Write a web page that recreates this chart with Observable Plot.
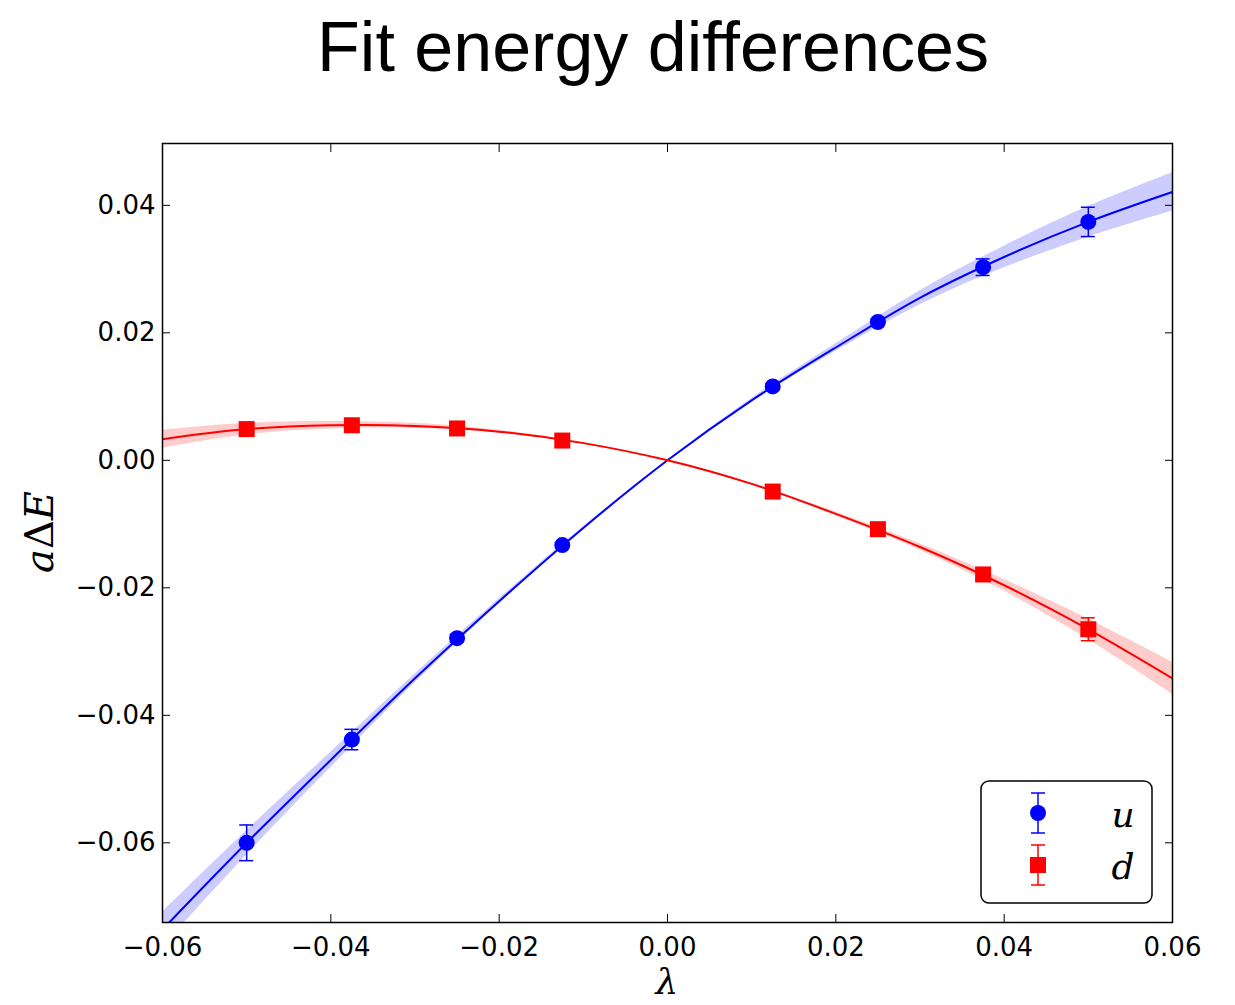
<!DOCTYPE html>
<html>
<head>
<meta charset="utf-8">
<script src="https://cdn.jsdelivr.net/npm/d3@7"></script>
<script src="https://cdn.jsdelivr.net/npm/@observablehq/plot@0.6"></script>
<style>
  body { margin: 0; background: #fff; }
  svg { display: block; }
</style>
</head>
<body>
<div id="chart"></div>
<script>
// ---- data ----
const lambda = [-0.05, -0.0375, -0.025, -0.0125, 0.0125, 0.025, 0.0375, 0.05];
const uValues = [-0.0600, -0.0438, -0.0279, -0.0133, 0.0116, 0.0217, 0.0303, 0.0374];
const uErrors = [0.0028, 0.0016, 0.0006, 0.0004, 0.0004, 0.0005, 0.0013, 0.0023];
const dValues = [0.0049, 0.0055, 0.0050, 0.0031, -0.0049, -0.0108, -0.0179, -0.0265];
const dErrors = [0.0004, 0.0004, 0.0003, 0.0003, 0.0003, 0.0005, 0.0008, 0.0018];

// fitted curves with error bands, read at lambda steps
const fitLambda = [-0.06, -0.05, -0.04, -0.03, -0.02, -0.01, 0, 0.01, 0.02, 0.03, 0.04, 0.05, 0.06];
const uFit  = [-0.0736, -0.0600, -0.0470, -0.0342, -0.0221, -0.0106, 0.0, 0.0094, 0.0177, 0.0255, 0.0319, 0.0374, 0.0421];
const uBand = [0.0027, 0.0019, 0.0012, 0.0007, 0.0004, 0.0002, 0.0, 0.0003, 0.0006, 0.0011, 0.0017, 0.0024, 0.0030];
const dFit  = [0.0033, 0.0049, 0.0055, 0.0054, 0.0045, 0.0027, 0.0, -0.0037, -0.0084, -0.0136, -0.0196, -0.0265, -0.0342];
const dBand = [0.0014, 0.0009, 0.0006, 0.0004, 0.0002, 0.0001, 0.0, 0.0001, 0.0003, 0.0005, 0.0009, 0.0016, 0.0025];

const xTicks = [-0.06, -0.04, -0.02, 0.00, 0.02, 0.04, 0.06];
const yTicks = [-0.06, -0.04, -0.02, 0.00, 0.02, 0.04];
const xDomain = [-0.06, 0.06];
const yDomain = [-0.0725, 0.0497];

const titleText = "Fit energy differences";

// ---- tables ----
const uPts = lambda.map((x, i) => ({x, v: uValues[i], e: uErrors[i]}));
const dPts = lambda.map((x, i) => ({x, v: dValues[i], e: dErrors[i]}));
const fit = fitLambda.map((x, i) => ({x, u: uFit[i], ub: uBand[i], d: dFit[i], db: dBand[i]}));

const BLUE = "#0000ff", RED = "#ff0000";
const capHalf = 0.00083;
const fmt = d => d.toFixed(2).replace("-", "\u2212");

function errMarks(pts, color) {
  return [
    Plot.ruleX(pts, {x: "x", y1: d => d.v - d.e, y2: d => d.v + d.e, stroke: color, strokeWidth: 1.5}),
    Plot.ruleY(pts, {y: d => d.v + d.e, x1: d => d.x - capHalf, x2: d => d.x + capHalf, stroke: color, strokeWidth: 1.5}),
    Plot.ruleY(pts, {y: d => d.v - d.e, x1: d => d.x - capHalf, x2: d => d.x + capHalf, stroke: color, strokeWidth: 1.5})
  ];
}

// title
const chart = document.getElementById("chart");
const tsvg = d3.create("svg").attr("width", 1235).attr("height", 100);
tsvg.append("text").attr("x", 653).attr("y", 71).attr("text-anchor", "middle")
  .attr("font-family", "'Liberation Sans', Arial, sans-serif").attr("font-size", 70)
  .attr("fill", "black").text(titleText);
chart.appendChild(tsvg.node());

const plot = Plot.plot({
  width: 1235,
  height: 905,
  marginLeft: 162,
  marginRight: 63,
  marginTop: 43,
  marginBottom: 83,
  style: {fontFamily: "'DejaVu Sans', sans-serif", fontSize: "26px", color: "black", background: "white"},
  x: {domain: xDomain},
  y: {domain: yDomain},
  marks: [
    Plot.areaY(fit, {x: "x", y1: d => d.u - d.ub, y2: d => d.u + d.ub, fill: "#ccccff", curve: "catmull-rom", clip: true}),
    Plot.areaY(fit, {x: "x", y1: d => d.d - d.db, y2: d => d.d + d.db, fill: "#ffcccc", curve: "catmull-rom", clip: true}),
    Plot.line(fit, {x: "x", y: "u", stroke: BLUE, strokeWidth: 2, curve: "catmull-rom", clip: true}),
    Plot.line(fit, {x: "x", y: "d", stroke: RED, strokeWidth: 2, curve: "catmull-rom", clip: true}),
    ...errMarks(uPts, BLUE),
    ...errMarks(dPts, RED),
    Plot.dot(uPts, {x: "x", y: "v", r: 8, fill: BLUE, symbol: "circle"}),
    Plot.dot(dPts, {x: "x", y: "v", r: 9.03, fill: RED, symbol: "square"}),
    Plot.frame({stroke: "black", strokeWidth: 1.5}),
    Plot.axisX({anchor: "bottom", ticks: xTicks, tickSize: 0, tickPadding: 15, tickFormat: fmt, label: null}),
    Plot.axisX({anchor: "bottom", ticks: xTicks, tickSize: -8, tickFormat: () => "", label: null}),
    Plot.axisX({anchor: "top", ticks: xTicks, tickSize: -8, tickFormat: () => "", label: null}),
    Plot.axisY({anchor: "left", ticks: yTicks, tickSize: 0, tickPadding: 7, tickFormat: fmt, label: null}),
    Plot.axisY({anchor: "left", ticks: yTicks, tickSize: -8, tickFormat: () => "", label: null}),
    Plot.axisY({anchor: "right", ticks: yTicks, tickSize: -8, tickFormat: () => "", label: null})
  ]
});
chart.appendChild(plot);

const svg = d3.select(plot);
const serif = "'DejaVu Serif', serif";
// x label
svg.append("text").attr("x", 667).attr("y", 894).attr("text-anchor", "middle")
  .attr("font-family", serif).attr("font-style", "italic").attr("font-size", 36).attr("fill", "black").text("\u03bb");
// y label
const yl = svg.append("text").attr("transform", "translate(53,432) rotate(-90)").attr("text-anchor", "middle")
  .attr("font-family", serif).attr("font-size", 40).attr("fill", "black");
yl.append("tspan").attr("font-style", "italic").text("a");
yl.append("tspan").text("\u0394");
yl.append("tspan").attr("font-style", "italic").text("E");

// legend
const lg = svg.append("g");
lg.append("rect").attr("x", 981).attr("y", 681).attr("width", 171).attr("height", 122).attr("rx", 8)
  .attr("fill", "white").attr("stroke", "black").attr("stroke-width", 1.5);
const entries = [{label: "u", color: BLUE, cy: 713, shape: "circle"}, {label: "d", color: RED, cy: 765, shape: "square"}];
for (const en of entries) {
  lg.append("line").attr("x1", 1038).attr("x2", 1038).attr("y1", en.cy - 20).attr("y2", en.cy + 20).attr("stroke", en.color).attr("stroke-width", 1.5);
  lg.append("line").attr("x1", 1031).attr("x2", 1045).attr("y1", en.cy - 20).attr("y2", en.cy - 20).attr("stroke", en.color).attr("stroke-width", 1.5);
  lg.append("line").attr("x1", 1031).attr("x2", 1045).attr("y1", en.cy + 20).attr("y2", en.cy + 20).attr("stroke", en.color).attr("stroke-width", 1.5);
  if (en.shape === "circle") lg.append("circle").attr("cx", 1038).attr("cy", en.cy).attr("r", 8).attr("fill", en.color);
  else lg.append("rect").attr("x", 1030).attr("y", en.cy - 8).attr("width", 16).attr("height", 16).attr("fill", en.color);
  lg.append("text").attr("x", 1123).attr("y", en.cy + 14).attr("text-anchor", "middle")
    .attr("font-family", serif).attr("font-style", "italic").attr("font-size", 36).attr("fill", "black").text(en.label);
}
</script>
</body>
</html>
